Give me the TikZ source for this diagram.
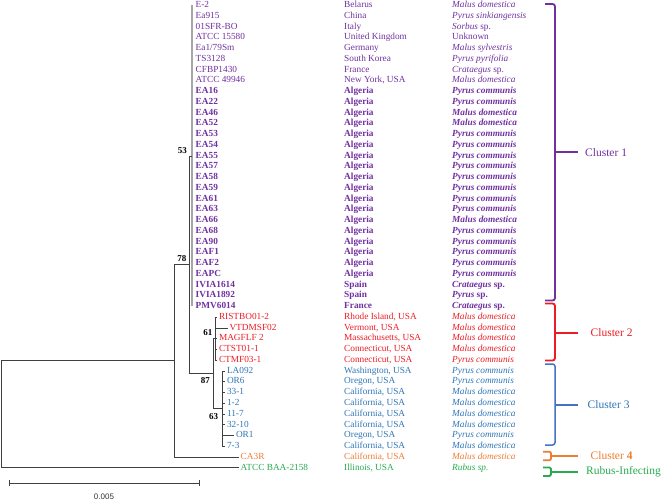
\documentclass[tikz,border=0pt]{standalone}
\usepackage{fontspec}
\setmainfont{Liberation Serif}
\newfontfamily\barfont{Liberation Sans}
\usetikzlibrary{positioning}

\definecolor{clpurple}{RGB}{112,48,160}
\definecolor{clred}{RGB}{235,28,36}
\definecolor{clblue}{RGB}{46,117,182}
\definecolor{clbrace}{RGB}{68,114,196}
\definecolor{clorange}{RGB}{237,125,49}
\definecolor{clgreen}{RGB}{40,170,80}

\tikzset{
  branch/.style={draw=black!75, line width=0.8pt},
  polytomy/.style={draw=black!35, line width=1.8pt},
  tip/.style={anchor=west, inner sep=0pt, font=\fontsize{9.3}{10}\selectfont, text height=6.4pt, text depth=1.9pt},
  boot/.style={inner sep=0pt, font=\fontsize{9}{10}\selectfont\bfseries},
  brace/.style={line width=1.8pt, rounded corners=2.5pt},
  clabel/.style={anchor=west, inner sep=0pt, font=\fontsize{11.5}{13}\selectfont},
}

\begin{document}
\begin{tikzpicture}[x=1pt, y=-1pt]
  \useasboundingbox (0,0) rectangle (669,502);

  % cluster 1, reference strains
  \foreach \i/\nm/\ct/\hs in {0/E-2/Belarus/\textit{Malus domestica},
      1/Ea915/China/\textit{Pyrus sinkiangensis}, 2/01SFR-BO/Italy/\textit{Sorbus} sp.,
      3/ATCC 15580/United Kingdom/Unknown, 4/{Ea1/79Sm}/Germany/\textit{Malus sylvestris},
      5/TS3128/South Korea/\textit{Pyrus pyrifolia}, 6/CFBP1430/France/\textit{Crataegus} sp.,
      7/ATCC 49946/{New York, USA}/\textit{Malus domestica}}{
    \pgfmathsetmacro\yy{5.5+10.75*\i}
    \coordinate (t\i) at (192,\yy);
    \node[tip, text=clpurple] (s\i) at (195.5,\yy) {\nm};
    \node[tip, text=clpurple] (c\i) at (344,\yy) {\ct};
    \node[tip, text=clpurple] (h\i) at (452,\yy) {\hs};
  }
  % cluster 1, strains of this study
  \foreach \i/\nm/\ct/\hs in {8/EA16/Algeria/\textit{Pyrus communis},
      9/EA22/Algeria/\textit{Pyrus communis}, 10/EA46/Algeria/\textit{Malus domestica},
      11/EA52/Algeria/\textit{Malus domestica}, 12/EA53/Algeria/\textit{Pyrus communis},
      13/EA54/Algeria/\textit{Pyrus communis}, 14/EA55/Algeria/\textit{Pyrus communis},
      15/EA57/Algeria/\textit{Pyrus communis}, 16/EA58/Algeria/\textit{Pyrus communis},
      17/EA59/Algeria/\textit{Pyrus communis}, 18/EA61/Algeria/\textit{Pyrus communis},
      19/EA63/Algeria/\textit{Pyrus communis}, 20/EA66/Algeria/\textit{Malus domestica},
      21/EA68/Algeria/\textit{Pyrus communis}, 22/EA90/Algeria/\textit{Pyrus communis},
      23/EAF1/Algeria/\textit{Pyrus communis}, 24/EAF2/Algeria/\textit{Pyrus communis},
      25/EAPC/Algeria/\textit{Pyrus communis}, 26/IVIA1614/Spain/\textit{Crataegus} sp.,
      27/IVIA1892/Spain/\textit{Pyrus} sp., 28/PMV6014/France/\textit{Crataegus} sp.}{
    \pgfmathsetmacro\yy{5.5+10.75*\i}
    \coordinate (t\i) at (192,\yy);
    \node[tip, text=clpurple] (s\i) at (195.5,\yy) {\bfseries\nm};
    \node[tip, text=clpurple] (c\i) at (344,\yy) {\bfseries\ct};
    \node[tip, text=clpurple] (h\i) at (452,\yy) {\bfseries\hs};
  }
  % cluster 2
  \foreach \i/\tx/\nm/\ct/\hs in {29/217/RISTBO01-2/{Rhode Island, USA}/\textit{Malus domestica},
      30/227.5/VTDMSF02/{Vermont, USA}/\textit{Malus domestica},
      31/217/MAGFLF 2/{Massachusetts, USA}/\textit{Malus domestica},
      32/217/CTST01-1/{Connecticut, USA}/\textit{Malus domestica},
      33/217/CTMF03-1/{Connecticut, USA}/\textit{Pyrus communis}}{
    \pgfmathsetmacro\yy{5.5+10.75*\i}
    \coordinate (t\i) at (\tx,\yy);
    \node[tip, text=clred, right=1.8pt of t\i] (s\i) {\nm};
    \node[tip, text=clred] (c\i) at (344,\yy) {\ct};
    \node[tip, text=clred] (h\i) at (452,\yy) {\hs};
  }
  % cluster 3
  \foreach \i/\tx/\nm/\ct/\hs in {34/225/LA092/{Washington, USA}/\textit{Pyrus communis},
      35/225/OR6/{Oregon, USA}/\textit{Pyrus communis},
      36/225/33-1/{California, USA}/\textit{Malus domestica},
      37/225/1-2/{California, USA}/\textit{Malus domestica},
      38/225/11-7/{California, USA}/\textit{Malus domestica},
      39/225/32-10/{California, USA}/\textit{Malus domestica},
      40/234/OR1/{Oregon, USA}/\textit{Pyrus communis},
      41/225/7-3/{California, USA}/\textit{Malus domestica}}{
    \pgfmathsetmacro\yy{5.5+10.75*\i}
    \coordinate (t\i) at (\tx,\yy);
    \node[tip, text=clblue, right=1.8pt of t\i] (s\i) {\nm};
    \node[tip, text=clblue] (c\i) at (344,\yy) {\ct};
    \node[tip, text=clblue] (h\i) at (452,\yy) {\hs};
  }
  % cluster 4 and outgroup
  \coordinate (t42) at (238.5,457);
  \node[tip, text=clorange, right=2pt of t42] (s42) {CA3R};
  \node[tip, text=clorange] (c42) at (344,457) {California, USA};
  \node[tip, text=clorange] (h42) at (452,457) {\textit{Malus domestica}};
  \coordinate (t43) at (238.5,467.75);
  \node[tip, text=clgreen, right=2pt of t43] (s43) {ATCC BAA-2158};
  \node[tip, text=clgreen] (c43) at (344,467.75) {Illinois, USA};
  \node[tip, text=clgreen] (h43) at (452,467.75) {\textit{Rubus sp.}};

  % inner nodes
  \coordinate (n53) at (192,156);
  \coordinate (n61) at (215,338.75);
  \coordinate (n63) at (222,408.6);
  \coordinate (n87) at (213.5,373.7);
  \coordinate (n78) at (189.5,264.8);
  \coordinate (nA) at (174.3,360.9);
  \coordinate (root) at (1,414.3);

  \draw[polytomy] (t0) -- (t28);
  \foreach \i in {29,...,33} \draw[branch] (n61) |- (t\i);
  \foreach \i in {34,...,41} \draw[branch] (n63) |- (t\i);
  \draw[branch] (n87) |- (n61);
  \draw[branch] (n87) |- (n63);
  \draw[branch] (n78) |- (n53);
  \draw[branch] (n78) |- (n87);
  \draw[branch] (nA) |- (n78);
  \draw[branch] (nA) |- (t42);
  \draw[branch] (root) |- (nA);
  \draw[branch] (root) |- (t43);

  % bootstrap values
  \node[boot, anchor=south east] (b53) at ([xshift=-5pt,yshift=2pt]n53) {53};
  \node[boot, anchor=south east] (b78) at ([xshift=-3pt,yshift=3pt]n78) {78};
  \node[boot, anchor=south east] (b61) at ([xshift=-2.5pt,yshift=2.5pt]n61) {61};
  \node[boot, anchor=north east] (b87) at ([xshift=-3.5pt,yshift=-4pt]n87) {87};
  \node[boot, anchor=north east] (b63) at ([xshift=-3.7pt,yshift=-4.5pt]n63) {63};

  % scale bar
  \coordinate (sb0) at (9,483.3);
  \coordinate (sb1) at (199.5,483.3);
  \draw[branch] (sb0) -- (sb1);
  \draw[branch] ([yshift=3pt]sb0) -- ([yshift=-3pt]sb0);
  \draw[branch] ([yshift=3pt]sb1) -- ([yshift=-3pt]sb1);
  \node[inner sep=0pt, font=\barfont\fontsize{8}{9}\selectfont, text=black!80] (sbl) at (104,496.5) {0.005};

  % clusters
  \coordinate (k1) at (578,152.3);
  \draw[brace, clpurple] (545,4) -| (555,152.3) |- (545,300.5);
  \draw[brace, clpurple] (555,152.3) -- (k1);
  \node[clabel, text=clpurple, right=7pt of k1] (l1) {Cluster 1};

  \coordinate (k2) at (578,333);
  \draw[brace, clred] (545,303.5) -| (555,333) |- (545,360.5);
  \draw[brace, clred] (555,333) -- (k2);
  \node[clabel, text=clred, right=12.5pt of k2] (l2) {Cluster 2};

  \coordinate (k3) at (578,405);
  \draw[brace, clbrace, line width=1.5pt] (545,364) -| (555,405) |- (545,445);
  \draw[brace, clbrace, line width=1.5pt] (555,405) -- (k3);
  \node[clabel, text=clblue, right=9.5pt of k3] (l3) {Cluster 3};

  \coordinate (k4) at (578,456);
  \draw[brace, clorange, rounded corners=1.5pt] (543,451.7) -| (551,456) |- (543,460.3);
  \draw[brace, clorange] (551,456) -- (k4);
  \node[clabel, text=clorange, right=12.5pt of k4] (l4) {Cluster \textbf{4}};

  \coordinate (k5) at (578,471.7);
  \draw[brace, clgreen, rounded corners=1.5pt] (543,467.4) -| (551,471.7) |- (543,476);
  \draw[brace, clgreen] (551,471.7) -- (k5);
  \node[clabel, text=clgreen, right=8pt of k5] (l5) {Rubus-Infecting};
\end{tikzpicture}
\end{document}
